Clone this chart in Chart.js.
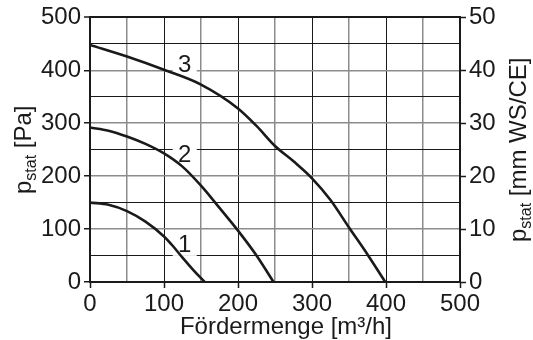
<!DOCTYPE html>
<html>
<head>
<meta charset="utf-8">
<script src="https://cdn.jsdelivr.net/npm/chart.js@4"></script>
<style>
  html, body { margin: 0; padding: 0; background: #fff; }
  canvas { display: block; }
</style>
</head>
<body>
<canvas id="fanChart" width="533" height="340"></canvas>
<script>
// fan curves: air flow [m3/h] vs static pressure [Pa]
const flow1 = [0, 25, 50, 75, 100, 112, 125, 140, 155];
const press1 = [150, 146, 134, 114, 86, 68, 46, 22, 0];

const flow2 = [0, 25, 50, 75, 100, 125, 150, 175, 200, 225, 248];
const press2 = [292, 286, 275, 261, 243, 218, 182, 140, 97, 50, 0];

const flow3 = [0, 50, 100, 150, 200, 225, 250, 275, 300, 325, 350, 375, 399];
const press3 = [448, 426, 401, 373, 328, 295, 257, 228, 196, 155, 103, 52, 0];

// curve numbers and where they sit (data coords)
const curveNames = ['1', '2', '3'];
const nameFlow = [128, 128, 128];
const namePress = [72, 241, 412];

const xTitle = 'Fördermenge [m³/h]';
const yTitle = ['p', 'stat', ' [Pa]'];
const y2Title = ['p', 'stat', ' [mm WS/CE]'];

const FONT = '"Liberation Sans", Arial, Helvetica, sans-serif';
const INK = '#1a1a1a';
const GREY = '#8c8c8c';

const pts = (xs, ys) => xs.map((x, i) => ({ x: x, y: ys[i] }));

function drawSubTitle(ctx, parts, bx, by) {
  // rotated title with subscript, starting at (bx, by) going upwards
  ctx.save();
  ctx.translate(bx, by);
  ctx.rotate(-Math.PI / 2);
  ctx.fillStyle = INK;
  ctx.textAlign = 'left';
  ctx.textBaseline = 'alphabetic';
  let x = 0;
  ctx.font = '24px ' + FONT;
  ctx.fillText(parts[0], x, 0);
  x += ctx.measureText(parts[0]).width;
  ctx.font = '16px ' + FONT;
  ctx.fillText(parts[1], x, 5);
  x += ctx.measureText(parts[1]).width;
  ctx.font = '24px ' + FONT;
  ctx.fillText(parts[2], x, 0);
  ctx.restore();
}

const decorations = {
  id: 'decorations',
  // numbers go under the curves so the lines stay whole
  beforeDatasetsDraw(chart) {
    const ctx = chart.ctx;
    const xs = chart.scales.x, ys = chart.scales.y;
    ctx.save();
    ctx.font = '24px ' + FONT;
    ctx.textAlign = 'center';
    ctx.textBaseline = 'middle';
    curveNames.forEach((n, i) => {
      const px = xs.getPixelForValue(nameFlow[i]);
      const py = ys.getPixelForValue(namePress[i]);
      ctx.fillStyle = '#fff';
      ctx.fillRect(px - 12, py - 12, 24, 24);
      ctx.fillStyle = INK;
      ctx.fillText(n, px, py + 1);
    });
    ctx.restore();
  },
  afterDraw(chart) {
    const ctx = chart.ctx;
    ctx.save();
    ctx.fillStyle = INK;
    ctx.font = '24px ' + FONT;
    ctx.textAlign = 'center';
    ctx.textBaseline = 'alphabetic';
    ctx.fillText(xTitle, 286, 334);
    ctx.restore();

    drawSubTitle(ctx, yTitle, 31, 194);
    drawSubTitle(ctx, y2Title, 526, 242);
  }
};

const lineStyle = {
  borderColor: INK,
  borderWidth: 2.6,
  pointRadius: 0,
  showLine: true,
  fill: false,
  cubicInterpolationMode: 'monotone'
};

new Chart(document.getElementById('fanChart'), {
  type: 'scatter',
  data: {
    datasets: [
      Object.assign({ data: pts(flow1, press1) }, lineStyle),
      Object.assign({ data: pts(flow2, press2) }, lineStyle),
      Object.assign({ data: pts(flow3, press3) }, lineStyle)
    ]
  },
  options: {
    responsive: false,
    animation: false,
    layout: { padding: { top: 15, left: 0, right: 0, bottom: 0 } },
    plugins: { legend: { display: false }, tooltip: { enabled: false } },
    scales: {
      x: {
        type: 'linear',
        min: 0, max: 500,
        afterFit: s => { s.height = 58; },
        border: { display: true, color: INK, width: 2 },
        grid: {
          color: c => (c.tick && c.tick.value % 100 === 0) ? INK : GREY,
          lineWidth: c => (c.tick && c.tick.value % 100 === 0) ? 1 : 1.5,
          tickColor: c => (c.tick && c.tick.value % 100 === 0) ? INK : 'rgba(0,0,0,0)',
          tickLength: 6,
          tickWidth: 1.5
        },
        ticks: {
          stepSize: 50,
          autoSkip: false,
          maxRotation: 0,
          padding: 2,
          color: INK,
          font: { family: FONT, size: 24 },
          callback: v => v % 100 === 0 ? v : ''
        }
      },
      y: {
        type: 'linear',
        position: 'left',
        min: 0, max: 500,
        afterFit: s => { s.width = 90; },
        border: { display: true, color: INK, width: 2 },
        grid: {
          color: c => {
            const v = c.tick ? c.tick.value : 0;
            if (v === 500) return INK;
            return v % 100 === 0 ? GREY : INK;
          },
          lineWidth: c => {
            const v = c.tick ? c.tick.value : 0;
            if (v === 500) return 2;
            return v % 100 === 0 ? 1.5 : 1;
          },
          tickColor: c => (c.tick && c.tick.value % 100 === 0) ? INK : 'rgba(0,0,0,0)',
          tickLength: 6,
          tickWidth: 1.5
        },
        ticks: {
          stepSize: 50,
          autoSkip: false,
          padding: 3,
          color: INK,
          font: { family: FONT, size: 24 },
          callback: v => v % 100 === 0 ? v : ''
        }
      },
      y2: {
        type: 'linear',
        position: 'right',
        min: 0, max: 50,
        afterFit: s => { s.width = 73; },
        border: { display: true, color: INK, width: 2 },
        grid: {
          drawOnChartArea: false,
          tickColor: INK,
          tickLength: 6,
          tickWidth: 1.5
        },
        ticks: {
          stepSize: 10,
          padding: 3,
          color: INK,
          font: { family: FONT, size: 24 }
        }
      }
    }
  },
  plugins: [decorations]
});
</script>
</body>
</html>
